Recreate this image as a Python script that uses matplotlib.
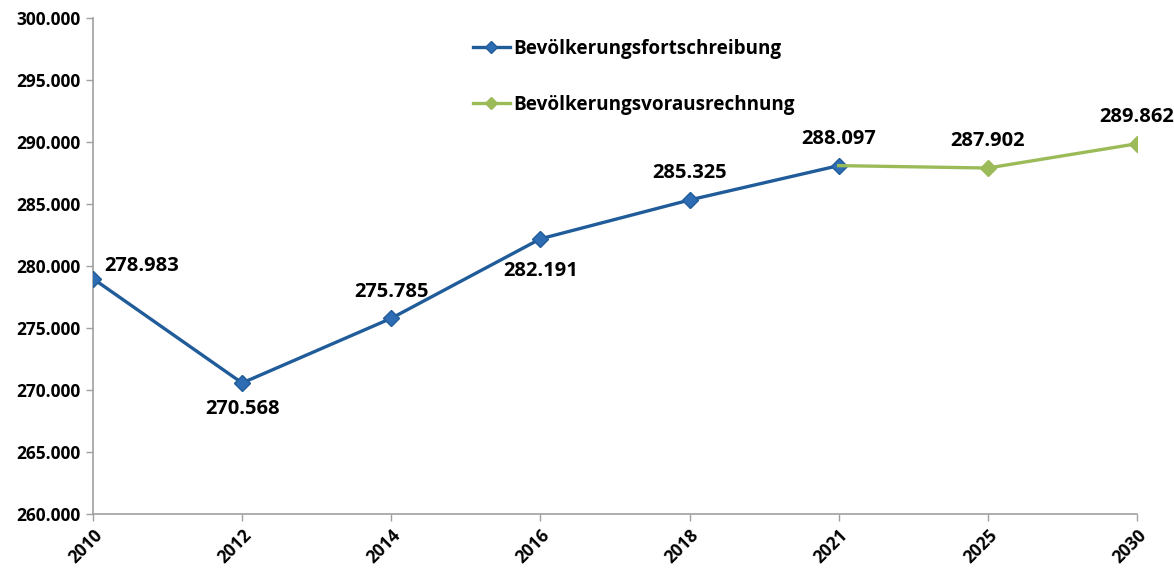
import matplotlib
matplotlib.use("Agg")
import matplotlib.pyplot as plt
from matplotlib.ticker import FuncFormatter, MultipleLocator

years = ["2010", "2012", "2014", "2016", "2018", "2021", "2025", "2030"]
fortschreibung = [278983, 270568, 275785, 282191, 285325, 288097]
vorausrechnung = [288097, 287902, 289862]
label_pos = ["right", "below", "above", "below", "above", "above", "above", "above"]
label_gap = [8, 11.5, 12, 16, 12, 12, 12, 12]

plt.rcParams['font.family'] = ['Open Sans', 'DejaVu Sans']
plt.rcParams['font.weight'] = 'bold'

blue_line = "#1F5C99"
blue_mk = "#2E6DB4"
green = "#9BBB59"

def de(v):
    return f"{v:,.0f}".replace(",", ".")

fig = plt.figure(figsize=(11.74, 5.70), dpi=100)
ax = fig.add_axes([0.0792, 0.0982, 0.8893, 0.8702])

x_f = list(range(len(fortschreibung)))
x_v = list(range(len(fortschreibung) - 1, len(years)))

ax.plot(x_f, fortschreibung, color=blue_line, lw=2.4, marker="D", ms=8,
        mfc=blue_mk, mec=blue_line, mew=1, label="Bevölkerungsfortschreibung", zorder=3)
ax.plot(x_v, vorausrechnung, color=green, lw=2.4, marker="D", ms=8,
        mfc=green, mec=green, markevery=[1, 2], label="Bevölkerungsvorausrechnung", zorder=4)

vals = fortschreibung + vorausrechnung[1:]
for i, (v, pos, g) in enumerate(zip(vals, label_pos, label_gap)):
    if pos == "right":
        ax.annotate(de(v), (i, v), xytext=(g, 9), textcoords="offset points",
                    ha="left", va="center", fontsize=14.5, fontweight="bold")
    elif pos == "below":
        ax.annotate(de(v), (i, v), xytext=(0, -g), textcoords="offset points",
                    ha="center", va="top", fontsize=14.5, fontweight="bold")
    else:
        ax.annotate(de(v), (i, v), xytext=(0, g), textcoords="offset points",
                    ha="center", va="bottom", fontsize=14.5, fontweight="bold")

ax.set_xlim(0, len(years) - 1)
ax.set_ylim(260000, 300000)
ax.yaxis.set_major_locator(MultipleLocator(5000))
ax.yaxis.set_major_formatter(FuncFormatter(lambda v, p: de(v)))
ax.set_xticks(range(len(years)))
ax.set_xticklabels(years, rotation=45, ha="right", rotation_mode="anchor")

for s in ["top", "right"]:
    ax.spines[s].set_visible(False)
for s in ["left", "bottom"]:
    ax.spines[s].set_color("#A0A0A0")
    ax.spines[s].set_linewidth(1.2)
ax.tick_params(axis="both", direction="out", length=5, color="#A0A0A0", width=1,
               labelsize=12.5, pad=4)
for lab in ax.get_xticklabels() + ax.get_yticklabels():
    lab.set_fontweight("bold")

leg = fig.legend(loc="upper left", bbox_to_anchor=(0.388, 0.962), frameon=False,
                 prop={"size": 13.6, "weight": "bold"}, labelspacing=1.9,
                 handlelength=2.0, handletextpad=0.15, markerscale=0.8)

fig.savefig("out.png", dpi=100)
